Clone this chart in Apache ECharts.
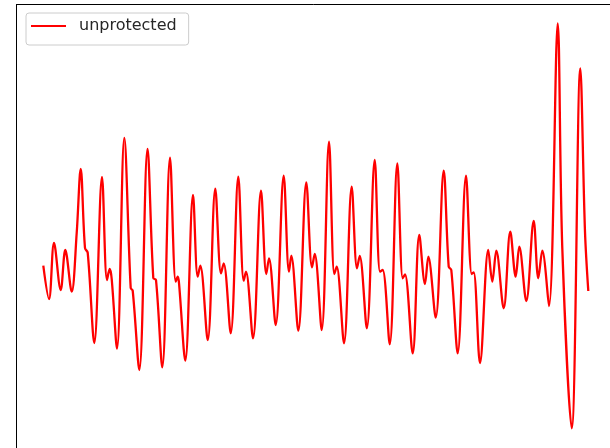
<!DOCTYPE html>
<html>
<head>
<meta charset="utf-8">
<script src="https://cdn.jsdelivr.net/npm/echarts@6/dist/echarts.min.js"></script>
<style>html,body{margin:0;padding:0;background:#fff}#c{width:610px;height:448px}</style>
</head>
<body>
<div id="c"></div>
<script>
const seriesName = 'unprotected';
const xs = [0.3,6,11,17.7,22.3,28.7,33.7,37.7,42,44.7,
51.3,59,64,66.7,68.7,74,81.3,87.7,89.7,96.3,
104.5,110.3,113,119.3,127,132.7,134.7,136,142.3,150,
154.7,157.3,164.7,172.3,178,180.7,187.7,195.3,200.7,203,
210,218,223.3,226,232.7,240.7,246,248.3,255.3,263.3,
269,271.7,278.7,286,291.3,293.7,301,308.7,314,316.7,
323.8,331.7,337,339.7,346.7,354.3,359.7,362,369.7,376.3,
382,385.3,392.7,400.7,405.7,408.3,414.7,423,428.7,430.7,
437,445.3,449.3,453.3,460.7,467.3,472.7,476.3,483.3,490.7,
495.3,499.3,506,514.7,519.3,528.7,537.3,542,545.3];
const ys = [0.063,-0.27,0.29,-0.18,0.22,-0.197,0.39,1.03,0.24,0.193,
-0.71,0.95,-0.08,0.03,-0.07,-0.767,1.34,-0.16,-0.187,-0.98,
1.23,-0.06,-0.08,-0.953,1.143,-0.097,-0.047,-0.11,-0.887,0.77,
-0.047,0.063,-0.68,0.833,-0.013,0.087,-0.613,0.953,-0.087,0.003,
-0.663,0.813,-0.02,0.137,-0.53,0.963,0.003,0.163,-0.587,0.897,
0.047,0.18,-0.58,1.303,-0.02,0.053,-0.713,0.853,0.037,0.16,
-0.563,1.12,0.003,0.02,-0.723,1.087,-0.063,-0.023,-0.813,0.37,
-0.12,0.153,-0.457,1.013,0.053,0.02,-0.813,0.963,-0.02,-0.003,
-0.91,0.22,-0.097,0.213,-0.363,0.403,-0.047,0.253,-0.29,0.51,
-0.063,0.213,-0.34,2.487,0.237,-1.563,2.037,0.403,-0.19];

const data = xs.map((x, i) => [x, ys[i]]);
const chart = echarts.init(document.getElementById('c'), null, {renderer: 'canvas'});
chart.setOption({
  animation: false,
  backgroundColor: '#ffffff',
  grid: {left: 16.5, top: 4.5, right: 0, bottom: 0, containLabel: false},
  legend: {
    show: true, left: 26, top: 13,
    data: [{name: seriesName, icon: 'rect'}],
    backgroundColor: '#ffffff', borderColor: '#cccccc', borderWidth: 1, borderRadius: 3,
    padding: [5, 12, 11, 5],
    itemWidth: 35, itemHeight: 2,
    textStyle: {fontFamily: 'DejaVu Sans', fontSize: 16, color: '#262626', padding: [0, 0, 0, 8]}
  },
  xAxis: [{
    type: 'value', position: 'top', min: -26.5, max: 567,
    axisLine: {show: true, onZero: false, lineStyle: {color: '#000', width: 1}},
    axisTick: {show: false}, axisLabel: {show: false}, splitLine: {show: false}
  }],
  yAxis: [{
    type: 'value', min: -1.76, max: 2.675,
    axisLine: {show: true, onZero: false, lineStyle: {color: '#000', width: 1}},
    axisTick: {show: false}, axisLabel: {show: false}, splitLine: {show: false}
  }],
  series: [{
    name: seriesName, type: 'line', data: data,
    symbol: 'none', smooth: 0.35,
    lineStyle: {color: '#ff0000', width: 2.3},
    itemStyle: {color: '#ff0000'}
  }]
});
</script>
</body>
</html>
